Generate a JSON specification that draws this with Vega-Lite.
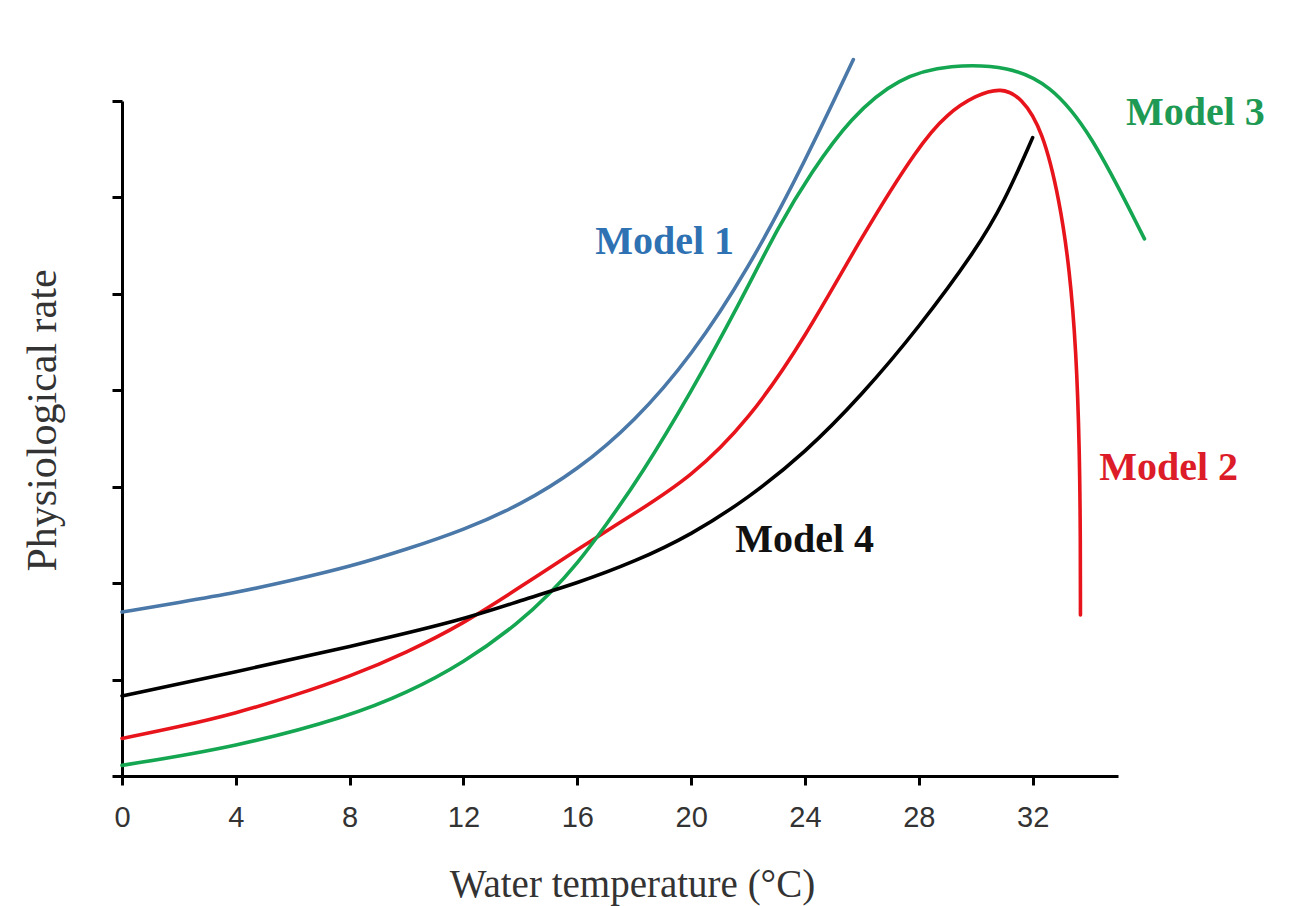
{
  "$schema": "https://vega.github.io/schema/vega-lite/v6.json",
  "autosize": "none",
  "width": 996,
  "height": 675,
  "padding": {"left": 122, "top": 101, "right": 173, "bottom": 130},
  "background": "white",
  "config": {"view": {"stroke": null}},
  "datasets": {
    "curves": [
      {"model": "Model 1", "t": 0, "rate": 1.70},
      {"model": "Model 1", "t": 2, "rate": 1.80},
      {"model": "Model 1", "t": 4, "rate": 1.90},
      {"model": "Model 1", "t": 6, "rate": 2.03},
      {"model": "Model 1", "t": 8, "rate": 2.17},
      {"model": "Model 1", "t": 10, "rate": 2.35},
      {"model": "Model 1", "t": 12, "rate": 2.55},
      {"model": "Model 1", "t": 14, "rate": 2.81},
      {"model": "Model 1", "t": 16, "rate": 3.17},
      {"model": "Model 1", "t": 18, "rate": 3.67},
      {"model": "Model 1", "t": 20, "rate": 4.35},
      {"model": "Model 1", "t": 22, "rate": 5.25},
      {"model": "Model 1", "t": 24, "rate": 6.37},
      {"model": "Model 1", "t": 25.7, "rate": 7.43},

      {"model": "Model 2", "t": 0, "rate": 0.39},
      {"model": "Model 2", "t": 2, "rate": 0.51},
      {"model": "Model 2", "t": 4, "rate": 0.65},
      {"model": "Model 2", "t": 6, "rate": 0.83},
      {"model": "Model 2", "t": 8, "rate": 1.03},
      {"model": "Model 2", "t": 10, "rate": 1.28},
      {"model": "Model 2", "t": 12, "rate": 1.58},
      {"model": "Model 2", "t": 14, "rate": 1.96},
      {"model": "Model 2", "t": 16, "rate": 2.35},
      {"model": "Model 2", "t": 18, "rate": 2.72},
      {"model": "Model 2", "t": 20, "rate": 3.1},
      {"model": "Model 2", "t": 22, "rate": 3.68},
      {"model": "Model 2", "t": 24, "rate": 4.54},
      {"model": "Model 2", "t": 26, "rate": 5.6},
      {"model": "Model 2", "t": 28, "rate": 6.54},
      {"model": "Model 2", "t": 29, "rate": 6.87},
      {"model": "Model 2", "t": 30, "rate": 7.06},
      {"model": "Model 2", "t": 30.9, "rate": 7.14},
      {"model": "Model 2", "t": 31.6, "rate": 7.04},
      {"model": "Model 2", "t": 32.35, "rate": 6.7},
      {"model": "Model 2", "t": 32.95, "rate": 5.97},
      {"model": "Model 2", "t": 33.3, "rate": 5.25},
      {"model": "Model 2", "t": 33.53, "rate": 4.42},
      {"model": "Model 2", "t": 33.65, "rate": 3.38},
      {"model": "Model 2", "t": 33.68, "rate": 2.4},
      {"model": "Model 2", "t": 33.68, "rate": 1.67},

      {"model": "Model 3", "t": 0, "rate": 0.11},
      {"model": "Model 3", "t": 4, "rate": 0.3},
      {"model": "Model 3", "t": 8, "rate": 0.62},
      {"model": "Model 3", "t": 10, "rate": 0.86},
      {"model": "Model 3", "t": 12, "rate": 1.17},
      {"model": "Model 3", "t": 14, "rate": 1.6},
      {"model": "Model 3", "t": 15, "rate": 1.88},
      {"model": "Model 3", "t": 16, "rate": 2.2},
      {"model": "Model 3", "t": 17, "rate": 2.6},
      {"model": "Model 3", "t": 18.2, "rate": 3.1},
      {"model": "Model 3", "t": 20, "rate": 3.98},
      {"model": "Model 3", "t": 21.7, "rate": 4.9},
      {"model": "Model 3", "t": 23.1, "rate": 5.72},
      {"model": "Model 3", "t": 24.2, "rate": 6.25},
      {"model": "Model 3", "t": 25.6, "rate": 6.83},
      {"model": "Model 3", "t": 27.3, "rate": 7.25},
      {"model": "Model 3", "t": 29.1, "rate": 7.38},
      {"model": "Model 3", "t": 31.2, "rate": 7.36},
      {"model": "Model 3", "t": 32.6, "rate": 7.17},
      {"model": "Model 3", "t": 34, "rate": 6.7},
      {"model": "Model 3", "t": 35.93, "rate": 5.57},

      {"model": "Model 4", "t": 0, "rate": 0.83},
      {"model": "Model 4", "t": 4, "rate": 1.08},
      {"model": "Model 4", "t": 8, "rate": 1.34},
      {"model": "Model 4", "t": 12, "rate": 1.62},
      {"model": "Model 4", "t": 14, "rate": 1.82},
      {"model": "Model 4", "t": 16, "rate": 2.0},
      {"model": "Model 4", "t": 18, "rate": 2.22},
      {"model": "Model 4", "t": 20, "rate": 2.5},
      {"model": "Model 4", "t": 22, "rate": 2.88},
      {"model": "Model 4", "t": 24, "rate": 3.35},
      {"model": "Model 4", "t": 26, "rate": 3.95},
      {"model": "Model 4", "t": 28, "rate": 4.65},
      {"model": "Model 4", "t": 30, "rate": 5.45},
      {"model": "Model 4", "t": 31, "rate": 5.95},
      {"model": "Model 4", "t": 32, "rate": 6.62}
    ],
    "labels": [
      {"model": "Model 1", "t": 19.07, "rate": 5.54},
      {"model": "Model 2", "t": 36.78, "rate": 3.19},
      {"model": "Model 3", "t": 37.72, "rate": 6.88},
      {"model": "Model 4", "t": 23.99, "rate": 2.45}
    ]
  },
  "layer": [
    {
      "data": {"name": "curves"},
      "mark": {"type": "line", "interpolate": "basis", "strokeWidth": 3.6, "strokeCap": "round"},
      "encoding": {
        "x": {
          "field": "t", "type": "quantitative",
          "scale": {"domain": [0, 35], "nice": false, "zero": false},
          "axis": {
            "values": [0, 4, 8, 12, 16, 20, 24, 28, 32],
            "title": "Water temperature (°C)",
            "grid": false,
            "labelFlush": false,
            "domainColor": "#000", "domainWidth": 3,
            "tickColor": "#000", "tickWidth": 3, "tickSize": 9,
            "labelFont": "Liberation Sans", "labelFontSize": 29, "labelColor": "#333",
            "labelPadding": 18,
            "titleFont": "Liberation Serif", "titleFontSize": 39, "titleFontWeight": "normal", "titleColor": "#333",
            "titleX": 510, "titleY": 120, "titleBaseline": "alphabetic", "titleAlign": "center"
          }
        },
        "y": {
          "field": "rate", "type": "quantitative",
          "scale": {"domain": [0, 7], "nice": false, "zero": false},
          "axis": {
            "values": [0, 1, 2, 3, 4, 5, 6, 7],
            "labels": false,
            "title": "Physiological rate",
            "grid": false,
            "domainColor": "#000", "domainWidth": 3,
            "tickColor": "#000", "tickWidth": 3, "tickSize": 10,
            "titleFont": "Liberation Serif", "titleFontSize": 42, "titleFontWeight": "normal", "titleColor": "#333",
            "titleAngle": -90, "titleX": -67, "titleY": 319, "titleBaseline": "alphabetic", "titleAlign": "center"
          }
        },
        "color": {
          "field": "model", "type": "nominal",
          "scale": {"domain": ["Model 1", "Model 2", "Model 3", "Model 4"], "range": ["#4a78a8", "#e8141b", "#14a651", "#000000"]},
          "legend": null
        }
      }
    },
    {
      "data": {"name": "labels"},
      "mark": {"type": "text", "font": "Liberation Serif", "fontSize": 40, "fontWeight": "bold", "align": "center", "baseline": "middle"},
      "encoding": {
        "x": {"field": "t", "type": "quantitative"},
        "y": {"field": "rate", "type": "quantitative"},
        "text": {"field": "model"},
        "color": {
          "field": "model", "type": "nominal",
          "scale": {"domain": ["Model 1", "Model 2", "Model 3", "Model 4"], "range": ["#2f72b3", "#dc1c28", "#1f9a55", "#111111"]},
          "legend": null
        }
      }
    }
  ],
  "resolve": {"scale": {"color": "independent"}}
}
